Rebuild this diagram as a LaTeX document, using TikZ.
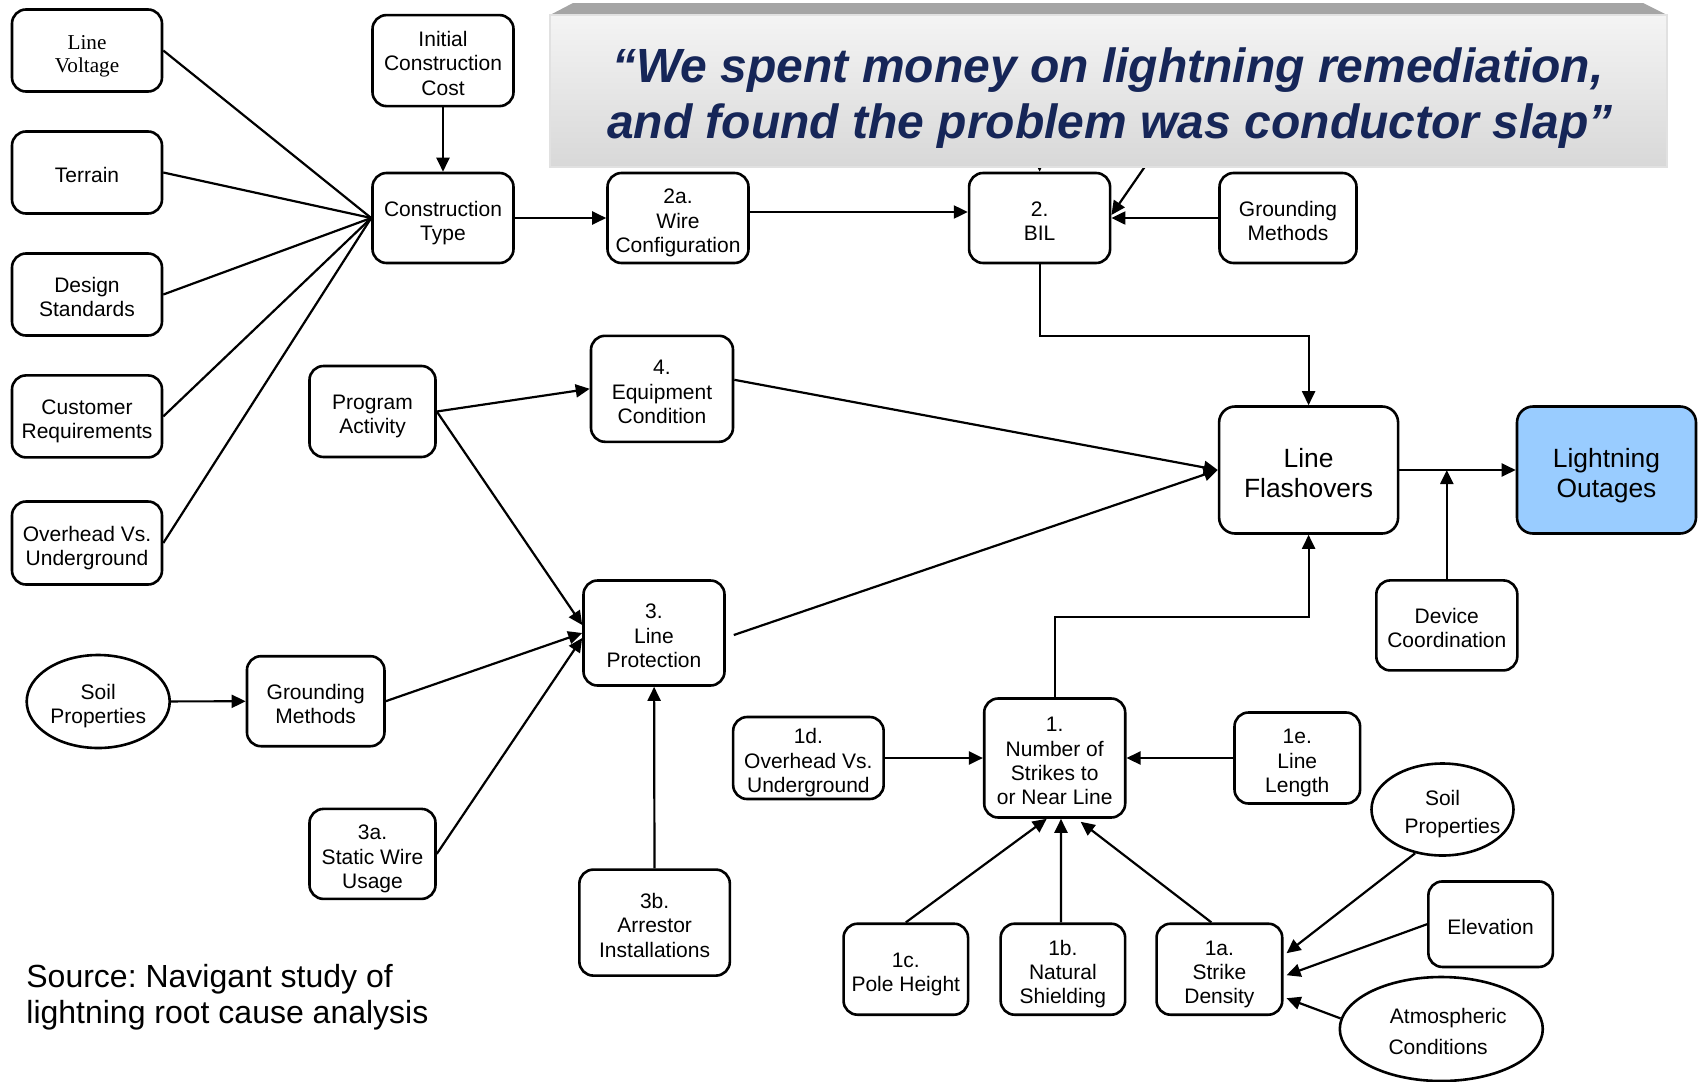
\documentclass[tikz,border=0pt]{standalone}
\usepackage{fontspec}
\setmainfont{Liberation Sans}
\newfontfamily\serifx{Liberation Serif}
\usetikzlibrary{arrows.meta,shapes.geometric,calc}
\definecolor{navyq}{RGB}{22,38,88}
\definecolor{outblue}{RGB}{153,204,255}
\definecolor{bevelg}{RGB}{165,165,165}
\definecolor{bantop}{RGB}{244,244,244}
\definecolor{banbot}{RGB}{216,216,216}
\definecolor{banedge}{RGB}{225,225,225}
\newcommand\strT{\rule{0pt}{1.2em}}
\newcommand\strB{\rule[-0.22em]{0pt}{0pt}}
\frenchspacing
\begin{document}
\begin{tikzpicture}[x=0.5pt,y=-0.5pt,
  bx/.style={draw, line width=1.3pt, rounded corners=7pt, align=center, inner sep=0pt, fill=white,
    font=\fontsize{10.5}{12.2}\selectfont},
  sz/.style 2 args={minimum width=#1*0.5pt, minimum height=#2*0.5pt},
  el/.style={draw, line width=1.3pt, ellipse, align=center, inner sep=0pt, fill=white,
    font=\fontsize{10.5}{12.2}\selectfont},
  big/.style={font=\fontsize{13.2}{15}\selectfont, rounded corners=8pt},
  ar/.style={line width=1.1pt, -{Triangle[length=7pt,width=6.5pt]}},
  ln/.style={line width=1.1pt},
  qt/.style={font=\bfseries\itshape\fontsize{24}{26}\selectfont, text=navyq, anchor=base, inner sep=0pt},
  srct/.style={font=\fontsize{16}{18}\selectfont, anchor=base west, inner sep=0pt}
]
\useasboundingbox (0,0) rectangle (1698,1082);

% left column
\node[bx,sz={150}{82},font=\serifx\fontsize{10.6}{11.8}\selectfont] (lv) at (87,50.5) {\strT Line\\Voltage\strB};
\node[bx,sz={150}{82}] (ter) at (87,172.5) {\strT Terrain\strB};
\node[bx,sz={150}{82}] (ds) at (87,294.5) {\strT Design\\Standards\strB};
\node[bx,sz={150}{82}] (cr) at (87,416.4) {\strT Customer\\Requirements\strB};
\node[bx,sz={150}{83}] (ou) at (87,543) {\strT Overhead Vs.\\Underground\strB};

% top row
\node[bx,sz={141}{91}] (icc) at (443,60.6) {\strT Initial\\Construction\\Cost\strB};
\node[bx,sz={141}{90}] (ct) at (443,218) {\strT Construction\\Type\strB};
\node[bx,sz={141}{90}] (w2a) at (678,218) {\strT 2a.\\Wire\\Configuration\strB};
\node[bx,sz={141}{90}] (bil) at (1039.6,218) {\strT 2.\\BIL\strB};
\node[bx,sz={137}{90}] (gmt) at (1288,218) {\strT Grounding\\Methods\strB};

% middle
\node[bx,sz={126}{91}] (pa) at (372.5,411.5) {\strT Program\\Activity\strB};
\node[bx,sz={142}{106}] (eq) at (662,388.8) {\strT 4.\\Equipment\\Condition\strB};
\node[bx,big,sz={179}{127}] (lf) at (1308.6,470) {\strT Line\\Flashovers\strB};
\node[bx,big,sz={179}{127},fill=outblue] (lo) at (1606.5,470) {\strT Lightning\\Outages\strB};
\node[bx,sz={141}{90}] (dc) at (1446.8,625.4) {\strT Device\\Coordination\strB};
\node[bx,sz={141}{105}] (lp) at (654,633) {\strT 3.\\Line\\Protection\strB};
\node[el,minimum width=143*0.5pt,minimum height=93*0.5pt] (soill) at (98.2,701.5) {\strT\makebox[0pt]{Soil}\\\makebox[0pt]{Properties}\strB};
\node[bx,sz={137.5}{90}] (gml) at (315.7,701.2) {\strT Grounding\\Methods\strB};
\node[bx,sz={126}{90}] (s3a) at (372.5,853.9) {\strT 3a.\\Static Wire\\Usage\strB};
\node[bx,sz={150.5}{106}] (s3b) at (654.6,922.6) {\strT 3b.\\Arrestor\\Installations\strB};

% lower right
\node[bx,sz={150.5}{82}] (d1) at (808.4,758) {\strT 1d.\\Overhead Vs.\\Underground\strB};
\node[bx,sz={141}{119}] (n1) at (1054.7,758) {\strT 1.\\Number of\\Strikes to\\or Near Line\strB};
\node[bx,sz={125.6}{91}] (e1) at (1297.3,758) {\strT 1e.\\Line\\Length\strB};
\node[el,minimum width=142*0.5pt,minimum height=92*0.5pt,font=\fontsize{10.5}{13.9}\selectfont] (soilr) at (1442.5,809.5) {\strT\makebox[0pt]{Soil}\\\makebox[0pt]{\hspace*{10pt}Properties}\strB};
\node[bx,sz={124.5}{85.5}] (elev) at (1490.6,924.2) {\strT Elevation\strB};
\node[el,minimum width=203*0.5pt,minimum height=104*0.5pt,font=\fontsize{10.5}{15.5}\selectfont] (atm) at (1441.3,1029) {\strT\makebox[0pt]{\hspace*{7pt}Atmospheric}\\\makebox[0pt]{Conditions\hspace*{3.2pt}}\strB};
\node[bx,sz={124.5}{91}] (c1) at (905.8,969.2) {\strT 1c.\\Pole Height\strB};
\node[bx,sz={124.5}{91}] (b1) at (1062.9,969.2) {\strT 1b.\\Natural\\Shielding\strB};
\node[bx,sz={125.7}{91}] (a1) at (1219.4,969.2) {\strT 1a.\\Strike\\Density\strB};

% source
\node[srct] (src1) at (26,987) {Source: Navigant study of};
\node[srct] (src2) at (26,1023.3) {lightning root cause analysis};

% connectors
\foreach \s in {lv,ter,ds,cr,ou} \draw[ln] (\s.east) -- (ct.west);
\draw[ar] (icc) -- (ct);
\draw[ar] (ct) -- (w2a);
\draw[ar] ($(w2a.east)+(0,-6)$) -- ($(bil.west)+(0,-6)$);
\draw[ar] (gmt) -- (bil);
\coordinate (h1) at (1039.6,100);
\coordinate (h2) at (1191,100);
\draw[ar] (h1) -- (bil.north);
\draw[ar] (h2) -- ($(bil.east)+(0,-3)$);
\coordinate (t1) at (0,335.7);
\draw[ar] (bil.south) -- (bil.south |- t1) -| (lf.north);
\draw[ar] (pa.east) -- (eq.west);
\draw[ar] (pa.east) -- ($(lp.west)+(0,-8)$);
\draw[ar] ($(eq.east)+(0,-9)$) -- (lf.west);
\draw[ar] ($(lp.east)+(8,2)$) -- (lf.west);
\draw[ar] (lf) -- (lo);
\draw[ar] (dc.north) -- (dc.north |- lf.east);
\draw[ar] (soill) -- (gml);
\draw[ar] (gml.east) -- (lp.west);
\draw[ar] (s3a.east) -- ($(lp.west)+(0,5)$);
\draw[ar] (s3b) -- (lp);
\coordinate (t2) at (0,617.3);
\draw[ar] (n1.north) -- (n1.north |- t2) -| (lf.south);
\draw[ar] (d1) -- (n1);
\draw[ar] (e1) -- (n1);
\draw[ar] (c1.north) -- ($(n1.south)+(-8,0)$);
\draw[ar] ($(b1.north)+(-2,0)$) -- ($(n1.south)+(6.3,0)$);
\draw[ar] ($(a1.north)+(-8,0)$) -- ($(n1.south)+(26,3)$);
\draw[ar] (soilr.238) -- ($(a1.east)+(3,-16)$);
\draw[ar] (elev.west) -- ($(a1.east)+(3,6)$);
\draw[ar] (atm.174) -- ($(a1.east)+(3,29)$);

% banner
\fill[bevelg] (550,15) -- (573,3) -- (1643,3) -- (1667,15) -- cycle;
\shade[top color=bantop, bottom color=banbot] (550,15) rectangle (1667,167);
\draw[banedge, line width=0.6pt] (550,15) rectangle (1667,167);
\node[qt] (q1) at (1108,82) {“We spent money on lightning remediation,};
\node[qt] (q2) at (1110,138.3) {and found the problem was conductor slap”};
\end{tikzpicture}
\end{document}
